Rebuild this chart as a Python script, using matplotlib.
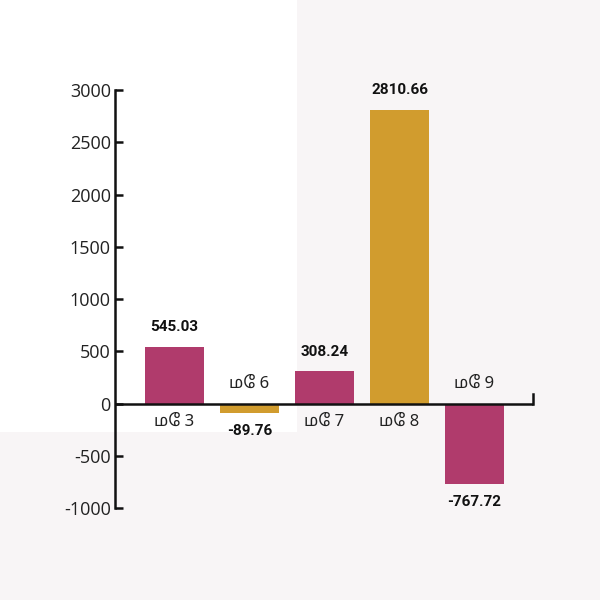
import matplotlib
matplotlib.use('Agg')
import matplotlib.pyplot as plt
from matplotlib.patches import Rectangle

# Data
dates = ['மே 3', 'மே 6', 'மே 7', 'மே 8', 'மே 9']
values = [545.03, -89.76, 308.24, 2810.66, -767.72]
y_ticks = [-1000, -500, 0, 500, 1000, 1500, 2000, 2500, 3000]

pink = '#b03b6c'
gold = '#d19c2e'
bar_colors = [pink, gold, pink, gold, pink]

tamil_fonts = ['Noto Sans Tamil', 'Noto Sans', 'DejaVu Sans']
num_fonts = ['Liberation Sans Narrow', 'Roboto', 'DejaVu Sans']

fig = plt.figure(figsize=(6, 6), dpi=100, facecolor='#f8f5f6')
# white panel behind the upper left part
fig.patches.append(Rectangle((0, 0.28), 0.495, 0.72, transform=fig.transFigure,
                             facecolor='white', edgecolor='none', zorder=-1))

ax = fig.add_axes([0.1917, 0.1533, 0.7083, 0.6967])
ax.set_facecolor('none')

x = list(range(len(values)))
ax.bar(x, values, width=0.79, color=bar_colors, zorder=2)

ax.set_xlim(-0.793, 4.873)
ax.set_ylim(-1000, 3000)

# zero line with the small end tick
ax.plot([-0.793, 4.78], [0, 0], color='#111111', lw=1.8, zorder=3, solid_capstyle='butt')
ax.plot([4.78, 4.78], [0, 90], color='#111111', lw=1.8, zorder=3)

for spine in ['top', 'right', 'bottom']:
    ax.spines[spine].set_visible(False)
ax.spines['left'].set_linewidth(1.8)
ax.spines['left'].set_color('#111111')

ax.set_xticks([])
ax.set_yticks(y_ticks)
ax.set_yticklabels([str(t) for t in y_ticks], fontsize=13, family=['Open Sans', 'DejaVu Sans'],
                   color='#222222')
ax.tick_params(axis='y', direction='in', length=6, width=1.8, pad=3, color='#111111')

for xi, v, d in zip(x, values, dates):
    if v >= 0:
        ax.annotate(f'{v:.2f}', (xi, v), xytext=(0, 14), textcoords='offset points',
                    ha='center', va='center', fontsize=11, fontweight='bold',
                    family=num_fonts, color='#111111')
        ax.annotate(d, (xi, 0), xytext=(0, -13), textcoords='offset points',
                    ha='center', va='center', fontsize=12, family=tamil_fonts, color='#222222')
    else:
        ax.annotate(f'{v:.2f}', (xi, v), xytext=(0, -13), textcoords='offset points',
                    ha='center', va='center', fontsize=11, fontweight='bold',
                    family=num_fonts, color='#111111')
        ax.annotate(d, (xi, 0), xytext=(0, 14), textcoords='offset points',
                    ha='center', va='center', fontsize=12, family=tamil_fonts, color='#222222')

fig.savefig('out.png', dpi=100, facecolor=fig.get_facecolor())
